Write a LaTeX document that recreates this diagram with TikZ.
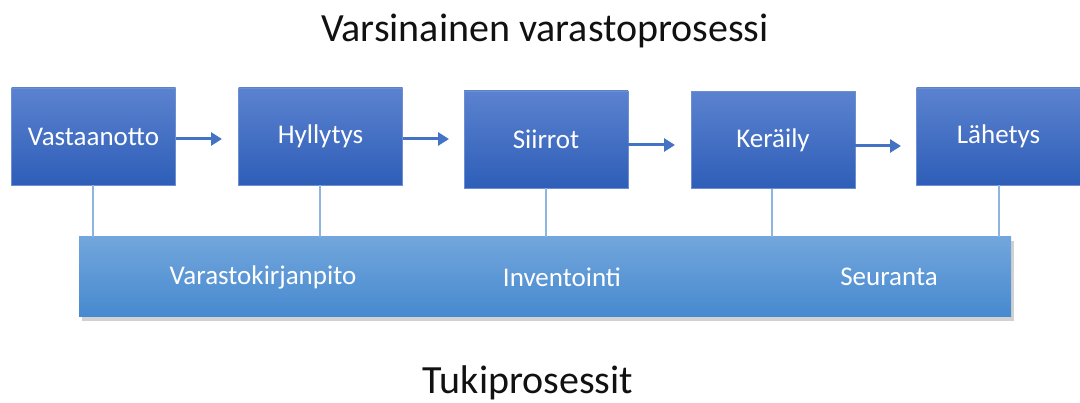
\documentclass[tikz,border=0pt]{standalone}
\usepackage{fontspec}
\setmainfont{Carlito}
\usetikzlibrary{arrows.meta,shadows,positioning}
\definecolor{boxtop}{HTML}{5B82CF}
\definecolor{boxbot}{HTML}{2E5EB8}
\definecolor{boxedge}{HTML}{6E8ED2}
\definecolor{bartop}{HTML}{72A6DC}
\definecolor{barbot}{HTML}{4689CF}
\definecolor{linkcol}{HTML}{8DB5E2}
\definecolor{arrowcol}{HTML}{4472C4}
\definecolor{titlecol}{HTML}{111111}
\tikzset{
  stage/.style={draw=boxedge, line width=0.8pt, top color=boxtop, bottom color=boxbot,
    minimum width=164pt, minimum height=97pt, inner sep=0pt, text=white,
    font=\fontsize{27}{31}\selectfont},
  supportbar/.style={draw=none, top color=bartop, bottom color=barbot,
    minimum width=932pt, minimum height=80pt, inner sep=0pt,
    drop shadow={shadow xshift=3pt, shadow yshift=-4pt, opacity=0.3, fill=black!60}},
  barlabel/.style={text=white, font=\fontsize{27}{31}\selectfont, inner sep=0pt},
  flow/.style={draw=arrowcol, line width=3pt, -{Triangle[length=11pt,width=13pt]}},
  link/.style={draw=linkcol, line width=1.2pt},
  heading/.style={text=titlecol, font=\fontsize{40}{46}\selectfont, inner sep=0pt}
}
\begin{document}
\begin{tikzpicture}[x=1pt,y=-1pt]
\useasboundingbox (0,0) rectangle (1080,403);
% supporting processes bar
\node[supportbar] (bar) at (545,277) {};
\node[barlabel] (kirjanpito) at (263,277) {Varastokirjanpito};
\node[barlabel] (inventointi) at (562,277) {Inventointi};
\node[barlabel] (seuranta) at (889,277) {Seuranta};
% main process stages
\node[stage] (vastaanotto) at (93.5,136.5) {Vastaanotto};
\node[stage] (hyllytys) at (320.5,136.5) {Hyllytys};
\node[stage] (siirrot) at (546,139.5) {Siirrot};
\node[stage] (keraily) at (773,140) {Keräily};
\node[stage] (lahetys) at (998.5,136.5) {Lähetys};
% flow arrows between stages
\draw[flow] (vastaanotto.east |- 0,139) -- (222,139);
\draw[flow] (hyllytys.east |- 0,139) -- (449,139);
\draw[flow] (siirrot.east |- 0,145) -- (675,145);
\draw[flow] (keraily.east |- 0,146) -- (901,146);
% links down to the support bar
\draw[link] (vastaanotto.south -| 93,0) -- (93,237);
\draw[link] (hyllytys.south -| 320,0) -- (320,237);
\draw[link] (siirrot.south -| 546,0) -- (546,237);
\draw[link] (keraily.south -| 772,0) -- (772,237);
\draw[link] (lahetys.south -| 999,0) -- (999,237);
% headings
\node[heading] (main) at (545,31) {Varsinainen varastoprosessi};
\node[heading] (support) at (528,383) {Tukiprosessit};
\end{tikzpicture}
\end{document}
